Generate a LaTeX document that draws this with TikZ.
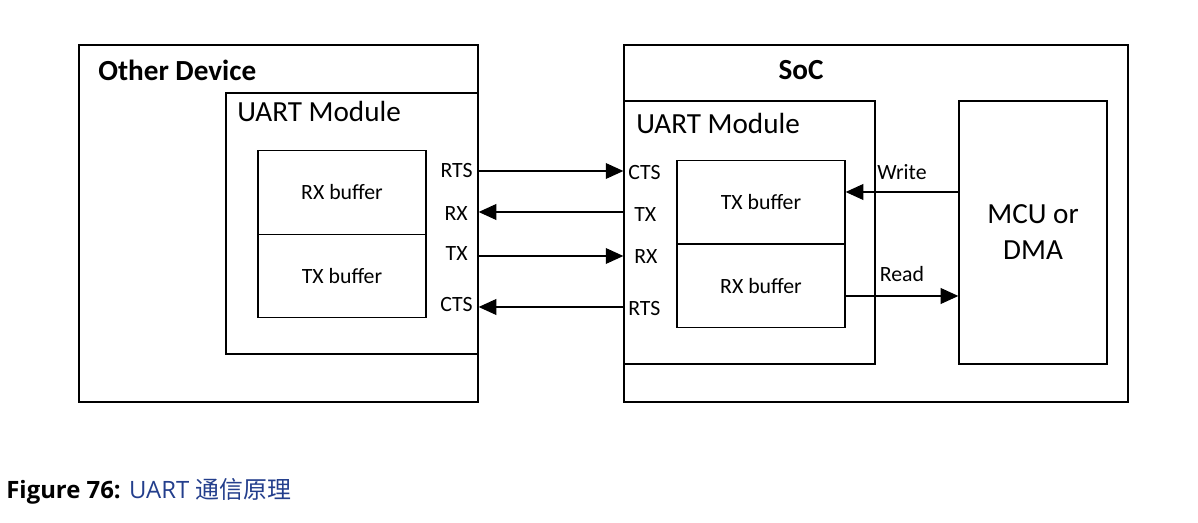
\documentclass[tikz,border=0pt]{standalone}
\usepackage{fontspec}
\setmainfont{Carlito}
\newfontfamily\capfont{Open Sans}
\newfontfamily\cjk{Noto Sans CJK SC}
\usetikzlibrary{arrows.meta}
\definecolor{capblue}{RGB}{35,62,140}
\tikzset{
  outerbox/.style={draw, line width=1.2pt, inner sep=0pt},
  modbox/.style={draw, line width=0.8pt, inner sep=0pt},
  bufbox/.style={draw, line width=0.8pt, inner sep=0pt, minimum width=3.36cm, minimum height=1.67cm,
    font=\fontsize{12.4}{14}\selectfont},
  big/.style={font=\fontsize{16.6}{19}\selectfont, inner sep=0pt},
  pin/.style={font=\fontsize{12.4}{14}\selectfont, inner sep=0pt},
  sig/.style={->, line width=0.6pt}
}
\begin{document}
\begin{tikzpicture}[x=0.02cm, y=-0.02cm, >={Triangle[length=10pt,width=9pt]}]
  \useasboundingbox (0,0) rectangle (1198,523);
  % other device
  \node[outerbox, minimum width=7.98cm, minimum height=7.14cm] (odev) at (278.5,223.5) {};
  \node[big, anchor=west, font=\fontsize{16.6}{19}\selectfont\bfseries] (odevlbl) at (98,70) {Other Device};
  \node[modbox, minimum width=5.04cm, minimum height=5.22cm] (lmod) at (352,223.5) {};
  \node[big, anchor=west] (lmodlbl) at (237,111) {UART Module};
  \node[bufbox] (lrxbuf) at (342,192.5) {RX buffer};
  \node[bufbox] (ltxbuf) at (342,276) {TX buffer};
  \node[pin, anchor=east] (lrts) at (473,171) {RTS};
  \node[pin, anchor=east] (lrx) at (468,214) {RX};
  \node[pin, anchor=east] (ltx) at (468,254) {TX};
  \node[pin, anchor=east] (lcts) at (473,305) {CTS};
  % soc
  \node[outerbox, minimum width=10.08cm, minimum height=7.14cm] (soc) at (876,223.5) {};
  \node[big, font=\fontsize{16.6}{19}\selectfont\bfseries] (soclbl) at (801,70) {SoC};
  \node[modbox, minimum width=5.02cm, minimum height=5.26cm] (rmod) at (749.5,232.5) {};
  \node[big, anchor=west] (rmodlbl) at (636,123) {UART Module};
  \node[bufbox] (rtxbuf) at (761,202) {TX buffer};
  \node[bufbox] (rrxbuf) at (761,286) {RX buffer};
  \node[pin, anchor=west] (rcts) at (628,173) {CTS};
  \node[pin, anchor=west] (rtx) at (634,215) {TX};
  \node[pin, anchor=west] (rrx) at (634,257) {RX};
  \node[pin, anchor=west] (rrts) at (628,309) {RTS};
  \node[modbox, minimum width=2.96cm, minimum height=5.26cm, align=center, font=\fontsize{16.6}{20.5}\selectfont] (mcu) at (1033,232.5) {MCU or\\DMA};
  % signals
  \draw[sig] (lmod.east |- 0,171) -- (rmod.west |- 0,171);
  \draw[sig] (rmod.west |- 0,212) -- (lmod.east |- 0,212);
  \draw[sig] (lmod.east |- 0,256) -- (rmod.west |- 0,256);
  \draw[sig] (rmod.west |- 0,307) -- (lmod.east |- 0,307);
  \draw[sig] (mcu.west |- 0,192) -- (rtxbuf.east |- 0,192) node[pin, pos=0.5, above=7pt] (wrlbl) {Write};
  \draw[sig] (rrxbuf.east |- 0,296) -- (mcu.west |- 0,296) node[pin, pos=0.5, above=8pt] (rdlbl) {Read};
  % caption
  \node[anchor=west, inner sep=0pt, font=\capfont\fontsize{13.6}{16}\selectfont] (cap) at (6,491)
    {\textbf{Figure 76:} \textcolor{capblue}{UART {\cjk 通信原理}}};
\end{tikzpicture}
\end{document}
